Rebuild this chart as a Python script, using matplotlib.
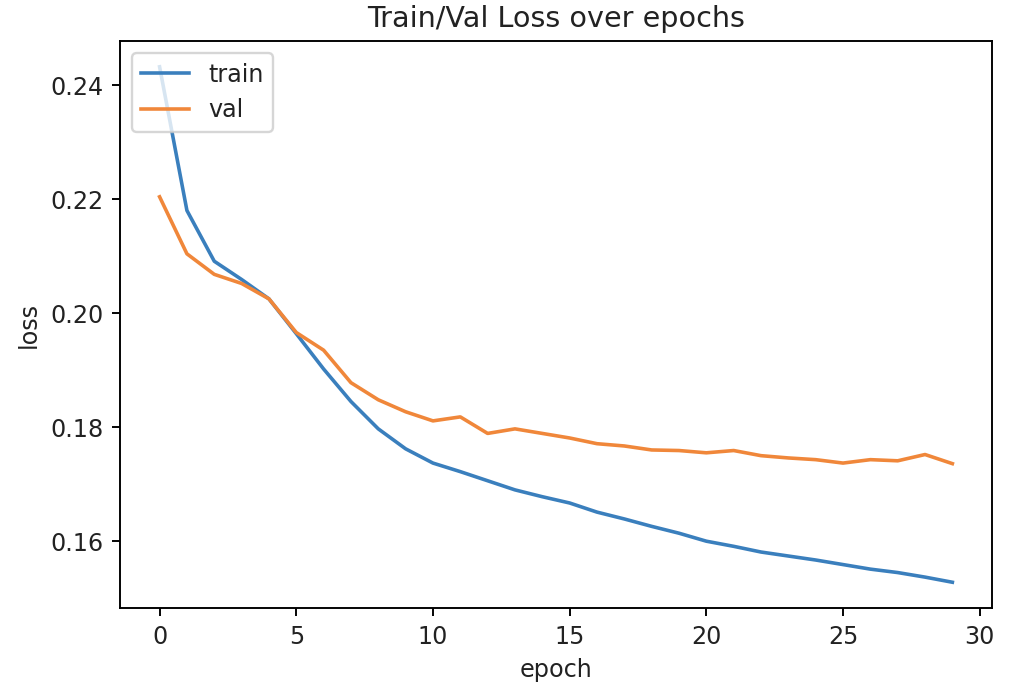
import matplotlib
matplotlib.use("Agg")
import matplotlib.pyplot as plt

# loss values
epochs = list(range(30))
train_loss = [0.2432, 0.2180, 0.2091, 0.2059, 0.2025, 0.1964, 0.1902, 0.1845, 0.1797, 0.1762,
              0.1737, 0.1722, 0.1706, 0.1690, 0.1678, 0.1667, 0.1651, 0.1639, 0.1626, 0.1614,
              0.1600, 0.1591, 0.1581, 0.1574, 0.1567, 0.1559, 0.1551, 0.1545, 0.1537, 0.1528]
val_loss = [0.2204, 0.2104, 0.2068, 0.2052, 0.2025, 0.1966, 0.1935, 0.1878, 0.1848, 0.1827,
            0.1811, 0.1818, 0.1789, 0.1797, 0.1789, 0.1781, 0.1771, 0.1767, 0.1760, 0.1759,
            0.1755, 0.1759, 0.1750, 0.1746, 0.1743, 0.1737, 0.1743, 0.1741, 0.1752, 0.1736]

fig = plt.figure(figsize=(1034 / 172, 700 / 172), dpi=172)
ax = fig.add_axes([0.116, 0.1314, 0.8434, 0.81])

# slightly softer than the default tab colours, the reference is a blurry screenshot
ax.plot(epochs, train_loss, color="#3a7fbd", label="train")
ax.plot(epochs, val_loss, color="#f0873a", label="val")

ax.set_title("Train/Val Loss over epochs", color="#222222")
ax.set_xlabel("epoch", color="#222222")
ax.set_ylabel("loss", color="#222222")
ax.tick_params(labelcolor="#222222")
ax.legend(loc="upper left", labelcolor="#222222")

fig.savefig("out.png", dpi=172)
